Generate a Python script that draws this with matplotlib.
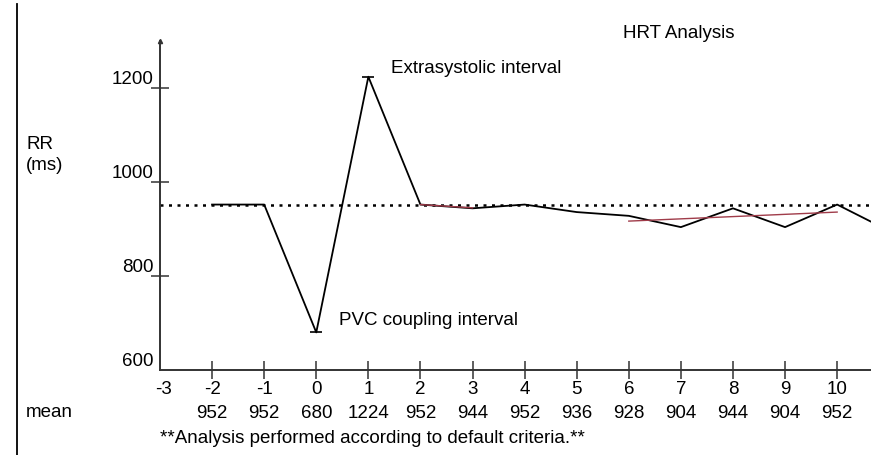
import numpy as np
import matplotlib.pyplot as plt
from matplotlib.lines import Line2D

plt.rcParams['font.family'] = ['Liberation Sans', 'DejaVu Sans']

# beat index relative to the PVC and the RR interval (ms) of each beat
beats = [-2, -1, 0, 1, 2, 3, 4, 5, 6, 7, 8, 9, 10, 11]
rr = [952, 952, 680, 1224, 952, 944, 952, 936, 928, 904, 944, 904, 952, 896]
mean_beats = [-2, -1, 0, 1, 2, 3, 4, 5, 6, 7, 8, 9, 10]
mean_vals = [952, 952, 680, 1224, 952, 944, 952, 936, 928, 904, 944, 904, 952]
baseline = 952
x_ticks = list(range(-3, 11))
y_ticks = [600, 800, 1000, 1200]

# turbulence slope fit over beats 6..10
slope_x = np.array([6, 7, 8, 9, 10])
slope_y = np.array([928, 904, 944, 904, 952])
b, a = np.polyfit(slope_x, slope_y, 1)
# short early fit segment
early_x = [2, 3]
early_y = [952, 945]

fs = 13.5

fig = plt.figure(figsize=(8.71, 4.56), dpi=100)
ax = fig.add_axes([160/871, (456-371)/456, 1 - 160/871, 329/456])
ax.set_xlim(-3, 10.65)
ax.set_ylim(600, 1300)

for s in ['top', 'right']:
    ax.spines[s].set_visible(False)
for s in ['left', 'bottom']:
    ax.spines[s].set_color('#333333')
    ax.spines[s].set_linewidth(1.4)
    ax.spines[s].set_clip_on(False)

ax.set_xticks(x_ticks[1:])
ax.set_yticks(y_ticks[1:])
ax.tick_params(axis='both', direction='inout', length=13, width=1.1,
               color='#333333', labelleft=False, labelbottom=False)

axc = '#333333'
ax.plot([-3], [1300], marker='^', ms=3, color=axc, clip_on=False)

# y tick labels sit just above the tick
for v in y_ticks:
    ax.text(-3.13, v + 3, str(v), ha='right', va='bottom', fontsize=fs)

# x tick labels and the mean row
for t in x_ticks:
    ax.text(t + (0.06 if t == -3 else 0), -0.055, str(t), ha='center', va='center',
            fontsize=fs, transform=ax.get_xaxis_transform(), clip_on=False)
for t, m in zip(mean_beats, mean_vals):
    ax.text(t, -0.128, str(m), ha='center', va='center', fontsize=fs,
            transform=ax.get_xaxis_transform(), clip_on=False)

ax.axhline(baseline, color='black', lw=1.8, ls=(0, (1.2, 2.2)), zorder=2)
ax.plot(beats, rr, color='black', lw=1.3, zorder=3)
ax.plot([1, 0], [1224, 680], ls='none', marker='_', ms=8, mew=1.2, color='black', zorder=3)

ax.plot(slope_x[[0, -1]], a + b*slope_x[[0, -1]], color='#a03c4a', lw=1.0, zorder=4)
ax.plot(early_x, early_y, color='#a03c4a', lw=1.0, zorder=4)

ax.text(1.43, 1243, 'Extrasystolic interval', fontsize=fs, ha='left', va='center')
ax.text(0.44, 708, 'PVC coupling interval', fontsize=fs, ha='left', va='center')

fig.text(623/871, 1 - 33/456, 'HRT Analysis', fontsize=fs, ha='left', va='center')
fig.text(26/871, 1 - 145/456, 'RR', fontsize=fs, ha='left', va='center')
fig.text(26/871, 1 - 166/456, '(ms)', fontsize=fs, ha='left', va='center')
fig.text(26/871, 1 - 413/456, 'mean', fontsize=fs, ha='left', va='center')
fig.text(160/871, 1 - 439/456, '**Analysis performed according to default criteria.**',
         fontsize=fs, ha='left', va='center')

fig.add_artist(Line2D([17/871, 17/871], [0, 1 - 5/456], color='black', lw=1.3))

plt.savefig('out.png', dpi=100)
